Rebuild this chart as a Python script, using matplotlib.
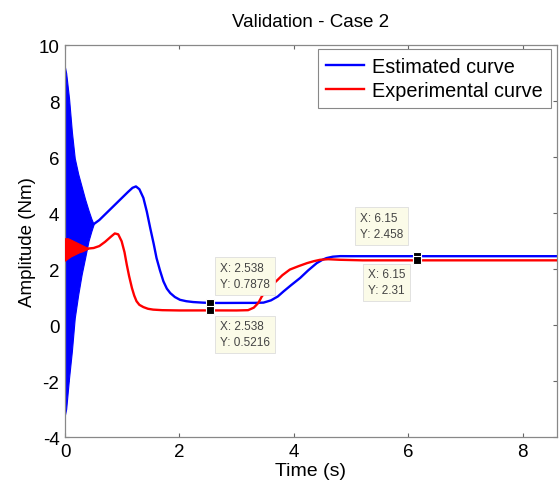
import matplotlib
matplotlib.use("Agg")
import matplotlib.pyplot as plt
from matplotlib.lines import Line2D

# oscillating start (envelopes)
blue_env_t = [0, 0.02, 0.07, 0.12, 0.17, 0.23, 0.29, 0.35, 0.41, 0.46, 0.5]
blue_env_hi = [9.2, 9.0, 8.1, 6.9, 5.96, 5.4, 4.95, 4.5, 4.1, 3.8, 3.6]
blue_env_lo = [-3.2, -3.0, -1.9, -0.93, 0.25, 1.08, 1.8, 2.39, 3.0, 3.35, 3.6]

red_env_t = [0, 0.05, 0.1, 0.15, 0.2, 0.25, 0.3, 0.35, 0.4]
red_env_hi = [3.1, 3.1, 3.05, 3.0, 2.95, 2.9, 2.85, 2.8, 2.75]
red_env_lo = [2.3, 2.38, 2.45, 2.5, 2.55, 2.6, 2.63, 2.68, 2.72]

# estimated curve after the oscillation
blue_t = [0.5, 0.6, 0.7, 0.8, 0.9, 1.0, 1.1, 1.18, 1.24, 1.3, 1.37, 1.43, 1.49,
          1.55, 1.6, 1.66, 1.72, 1.78, 1.84, 1.92, 2.01, 2.12, 2.24, 2.4, 2.538,
          2.8, 3.1, 3.3, 3.47, 3.6, 3.72, 3.82, 3.95, 4.11, 4.25, 4.4, 4.5, 4.57,
          4.68, 4.81, 5.0, 5.5, 6.15, 7.0, 8.6]
blue_y = [3.6, 3.75, 3.95, 4.15, 4.35, 4.55, 4.75, 4.9, 4.95, 4.85, 4.54, 4.05,
          3.46, 2.9, 2.39, 1.95, 1.56, 1.3, 1.14, 1.0, 0.9, 0.85, 0.82, 0.8,
          0.7878, 0.7878, 0.79, 0.79, 0.8, 0.88, 1.02, 1.2, 1.42, 1.68, 1.95,
          2.21, 2.33, 2.39, 2.44, 2.46, 2.458, 2.458, 2.458, 2.458, 2.458]

# experimental curve after the oscillation
red_t = [0.4, 0.5, 0.6, 0.7, 0.8, 0.87, 0.93, 0.99, 1.04, 1.08, 1.12, 1.17, 1.21,
         1.25, 1.3, 1.37, 1.45, 1.54, 1.7, 2.0, 2.538, 3.0, 3.2, 3.3, 3.38, 3.44,
         3.55, 3.7, 3.8, 3.93, 4.08, 4.23, 4.35, 4.46, 4.6, 4.8, 5.2, 6.15, 7.0, 8.6]
red_y = [2.73, 2.75, 2.82, 2.97, 3.15, 3.27, 3.24, 2.99, 2.6, 2.15, 1.75, 1.32, 1.05,
         0.85, 0.72, 0.64, 0.58, 0.55, 0.53, 0.52, 0.5216, 0.52, 0.53, 0.62, 0.79,
         1.02, 1.3, 1.58, 1.78, 1.98, 2.1, 2.21, 2.28, 2.33, 2.35, 2.33, 2.31, 2.31,
         2.31, 2.31]

# data tips: (x, y, label, offset in pixels)
tips = [
    (2.538, 0.7878, "X: 2.538\nY: 0.7878", (10, 27)),
    (2.538, 0.5216, "X: 2.538\nY: 0.5216", (10, -24)),
    (6.15, 2.458, "X: 6.15\nY: 2.458", (-57, 30)),
    (6.15, 2.31, "X: 6.15\nY: 2.31", (-49, -22)),
]

x_ticks = [0, 2, 4, 6, 8]
y_ticks = [-4, -2, 0, 2, 4, 6, 8, 10]

plt.rcParams['font.family'] = ['Liberation Sans', 'DejaVu Sans']
plt.rcParams['axes.unicode_minus'] = False

fig = plt.figure(figsize=(5.59, 4.85), dpi=100)
ax = fig.add_axes([0.1163, 0.0969, 0.8801, 0.8082])

ax.fill_between(blue_env_t, blue_env_lo, blue_env_hi, color='#0000ff', lw=0.8, zorder=2)
ax.plot(blue_t, blue_y, color='#0000ff', lw=1.7, zorder=2)
ax.fill_between(red_env_t, red_env_lo, red_env_hi, color='#ff0000', lw=0.8, zorder=3)
ax.plot(red_t, red_y, color='#ff0000', lw=1.7, zorder=3)

for x, y, label, off in tips:
    ax.plot([x], [y], marker='s', ms=6, color='black', mec='white', mew=0.8, zorder=6)
    ax.annotate(label, xy=(x, y), xytext=off, textcoords='offset pixels',
                ha='left', va='center', fontsize=8.5, color='#444444', linespacing=1.45,
                bbox=dict(boxstyle='square,pad=0.4', fc='#fbfbe8', ec='#dddddd', lw=0.6),
                zorder=5)

ax.set_xlim(0, 8.6)
ax.set_ylim(-4, 10)
ax.set_xticks(x_ticks)
ax.set_yticks(y_ticks)
ax.tick_params(direction='in', length=3, top=True, right=True, labelsize=13.5,
               color='#666666', pad=4)
for sp in ax.spines.values():
    sp.set_color('#888888')
    sp.set_linewidth(0.9)

ax.set_title("Validation - Case 2", fontsize=13.5, pad=14)
ax.set_xlabel("Time (s)", fontsize=14, labelpad=2)
ax.set_ylabel("Amplitude (Nm)", fontsize=13.5, labelpad=2)

handles = [Line2D([], [], color='#0000ff', lw=1.7),
           Line2D([], [], color='#ff0000', lw=1.7)]
leg = ax.legend(handles, ["Estimated curve", "Experimental curve"], loc='upper right',
                bbox_to_anchor=(0.988, 0.99), borderaxespad=0, fancybox=False,
                framealpha=1, edgecolor='#888888', fontsize=14.3, handlelength=1.95,
                borderpad=0.4, labelspacing=0.25, handletextpad=0.4)
leg.get_frame().set_linewidth(0.8)

fig.savefig("out.png", dpi=100)
